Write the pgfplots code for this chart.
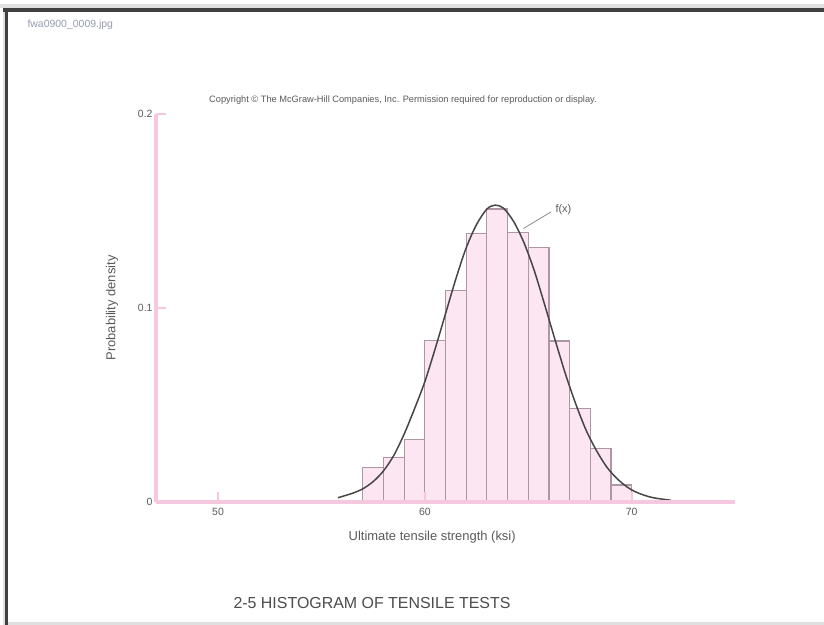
\documentclass[border=0pt]{standalone}
\usepackage{fontspec}
\setmainfont{Liberation Sans}
\usepackage{pgfplots}
\pgfplotsset{compat=1.18}
\definecolor{axpink}{RGB}{246,200,224}
\definecolor{barfill}{RGB}{252,230,241}
\definecolor{baredge}{RGB}{175,150,165}
\definecolor{curvecol}{RGB}{70,70,70}
\definecolor{txt}{RGB}{90,90,90}
\definecolor{fname}{RGB}{150,155,175}
\begin{document}
\begin{tikzpicture}[x=1bp,y=1bp]
\path[use as bounding box] (0,0) rectangle (824,625);
\fill[white] (0,0) rectangle (824,625);
% screenshot frame
\fill[black!12] (0,617) rectangle (824,621);
\fill[black!75] (3,613) rectangle (824,617);
\fill[black!12] (3,0) rectangle (5,613);
\fill[black!75] (5,0) rectangle (8,617);
\fill[black!12] (8,0) rectangle (824,3);
\node[anchor=west, text=fname, font=\fontsize{10.5}{12}\selectfont] at (24,600) {fwa0900\_0009.jpg};
\node[text=txt, font=\fontsize{9.3}{11}\selectfont] at (403,525) {Copyright © The McGraw-Hill Companies, Inc. Permission required for reproduction or display.};
\node[text=black!70, font=\fontsize{16}{19}\selectfont] at (372,22) {2-5 HISTOGRAM OF TENSILE TESTS};
\begin{axis}[
  at={(156bp,123bp)}, anchor=south west,
  scale only axis, width=579bp, height=388bp,
  xmin=47, xmax=75, ymin=0, ymax=0.2,
  axis lines=left,
  axis line style={-, draw=axpink, line width=3.5bp},
  axis on top,
  xtick={50,60,70},
  ytick={0,0.1,0.2},
  tick align=inside,
  major tick length=10bp,
  every tick/.style={draw=axpink, line width=2bp},
  ticklabel style={text=txt, font=\fontsize{10.5}{12}\selectfont},
  /pgf/number format/assume math mode=true,
  yticklabel style={/pgf/number format/fixed},
  xticklabel style={yshift=-3bp},
  xlabel={Ultimate tensile strength (ksi)},
  ylabel={Probability density},
  label style={text=txt, font=\fontsize{13}{15}\selectfont},
  xlabel style={at={(axis description cs:0.477,-0.09)}, anchor=center},
  ylabel style={at={(axis description cs:-0.076,0.5)}, anchor=center, rotate=0},
]
\addplot[ybar interval, fill=barfill, draw=baredge, line width=1.2bp] coordinates {
(57,0.0177) (58,0.0228) (59,0.0323) (60,0.0832) (61,0.109) (62,0.1385)
(63,0.151) (64,0.139) (65,0.131) (66,0.083) (67,0.048) (68,0.0277)
(69,0.0088) (70,0.0088)};
\addplot[smooth, draw=curvecol, line width=1.5bp] coordinates {
(55.8,0.0022) (56.5,0.0045) (57,0.0068) (57.5,0.0105) (58,0.016) (58.5,0.024)
(59,0.035) (59.5,0.048) (60,0.062) (60.5,0.079) (61,0.097) (61.5,0.115)
(62,0.131) (62.5,0.143) (63,0.151) (63.4,0.153) (63.8,0.1515) (64.3,0.1445)
(64.8,0.1335) (65.3,0.119) (65.8,0.1015) (66.3,0.0835) (66.8,0.066)
(67.3,0.0505) (67.8,0.037) (68.3,0.0265) (68.8,0.018) (69.3,0.012)
(69.8,0.0076) (70.3,0.0047) (71,0.0023) (71.9,0.0009)};
\draw[black!45, line width=0.8bp] (axis cs:64.77,0.141) -- (axis cs:66.1,0.1495);
\node[anchor=west, text=txt, font=\fontsize{11}{13}\selectfont] at (axis cs:66.15,0.1505) {f(x)};
\end{axis}
\end{tikzpicture}
\end{document}
